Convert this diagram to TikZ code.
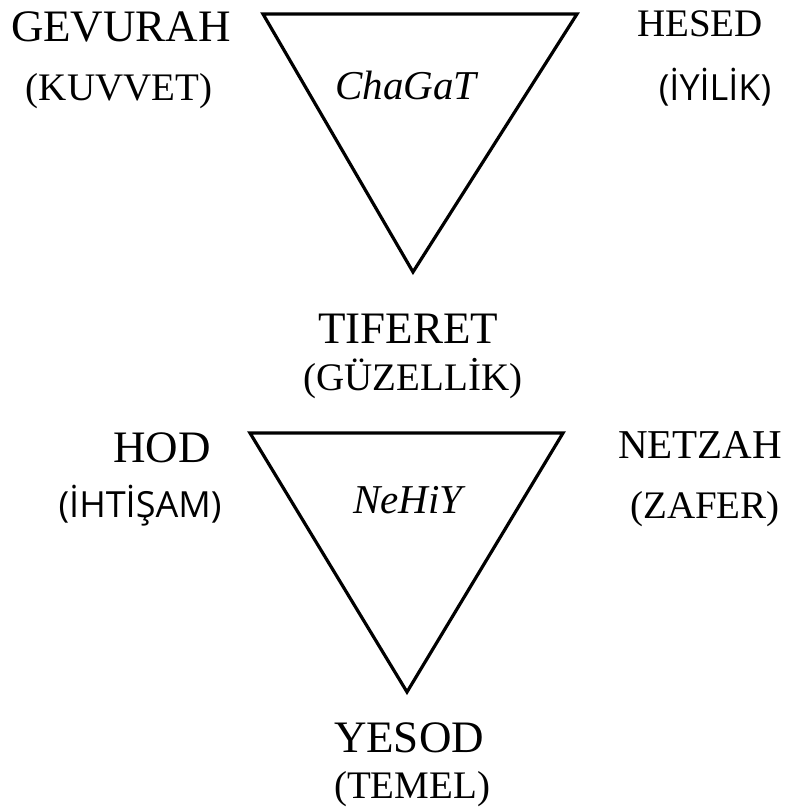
\documentclass[tikz,border=0pt]{standalone}
\usepackage{fontspec}
\setmainfont{Liberation Serif}
\newfontfamily\labelsans{Open Sans}
\usetikzlibrary{positioning}

\tikzset{
  sefira/.style={anchor=base, inner sep=0pt, font=\fontsize{45}{48}\selectfont},
  meaning/.style={anchor=base, inner sep=0pt, font=\fontsize{39}{42}\selectfont},
  meaningsans/.style={anchor=base, inner sep=0pt, font=\labelsans\fontsize{36}{40}\selectfont},
  triad/.style={anchor=base, inner sep=0pt, font=\itshape\fontsize{41}{44}\selectfont},
  tri/.style={draw, line width=3.2pt, line join=miter}
}

\begin{document}
\begin{tikzpicture}[x=1pt, y=-1pt]
		\useasboundingbox (0,0) rectangle (788,810);

		% upper triad
		\coordinate (c1) at (263,14);
		\coordinate (c2) at (577,14);
		\coordinate (c3) at (413,272);
		\draw[tri] (c1) -- (c2) -- (c3) -- cycle;
		\node[triad] (chagat) at (406,100) {ChaGaT};

		\node[sefira] (gevurah) at (121,42) {GEVURAH};
		\node[meaning] (kuvvet) at (119,101) {(KUVVET)};
		\node[sefira, font=\fontsize{39}{42}\selectfont] (hesed) at (700,37) {HESED};
		\node[meaningsans] (iyilik) at (715,101) {(İYİLİK)};

		\node[sefira] (tiferet) at (408,343) {TIFERET};
		\node[meaning] (guzellik) at (413,390) {(GÜZELLİK)};

		% lower triad
		\coordinate (d1) at (250,433);
		\coordinate (d2) at (563,433);
		\coordinate (d3) at (407,692);
		\draw[tri] (d1) -- (d2) -- (d3) -- cycle;
		\node[triad] (nehiy) at (408,513) {NeHiY};

		\node[sefira] (hod) at (162,462) {HOD};
		\node[meaningsans] (ihtisam) at (140,517) {(İHTİŞAM)};
		\node[sefira, font=\fontsize{41}{44}\selectfont] (netzah) at (700,458) {NETZAH};
		\node[meaning] (zafer) at (705,518) {(ZAFER)};

		\node[sefira] (yesod) at (409,752) {YESOD};
		\node[meaning] (temel) at (412,798) {(TEMEL)};
	\end{tikzpicture}
\end{document}
